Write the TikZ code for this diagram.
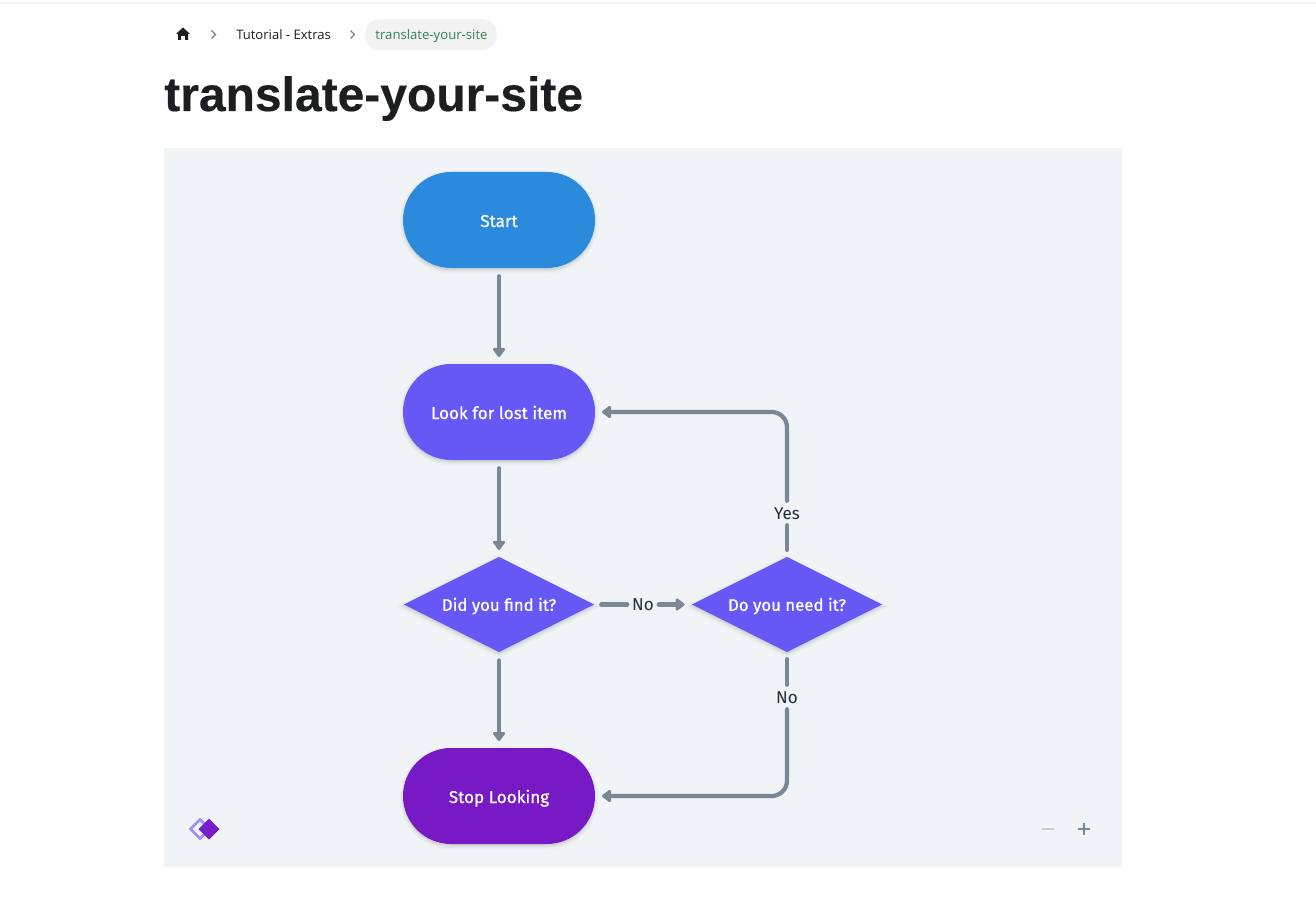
\documentclass[tikz,border=0pt]{standalone}
\usepackage{fontspec}
\setmainfont{Open Sans}
\newfontfamily\flowfont{Fira Sans}
\newfontfamily\flowbold{Fira Sans}[FakeBold=0.8]
\newfontfamily\titlefont{Liberation Sans}[BoldFont={Liberation Sans Bold},BoldFeatures={FakeBold=0.35}]
\usetikzlibrary{arrows.meta,shapes.geometric,shapes.misc,calc}
\definecolor{panelbg}{HTML}{F0F4F7}
\definecolor{edgecol}{HTML}{7A8896}
\definecolor{labcol}{HTML}{1F2D3D}
\definecolor{startcol}{HTML}{2B8ADC}
\definecolor{lookcol}{HTML}{6558F5}
\definecolor{stopcol}{HTML}{7719C4}
\definecolor{titlecol}{HTML}{1C1E21}
\definecolor{crumbgreen}{HTML}{2E8555}
\definecolor{logolight}{HTML}{9C90FB}
\tikzset{
  px/.style={x=0.75pt,y=-0.75pt},
  soft/.style={preaction={draw=black,draw opacity=0.025,line width=5pt,fill=black,fill opacity=0.025,transform canvas={yshift=-1.5pt}},
               preaction={draw=black,draw opacity=0.04,line width=2.5pt,fill=black,fill opacity=0.04,transform canvas={yshift=-1.5pt}}},
  term/.style={rounded rectangle,minimum width=144pt,minimum height=72pt,inner sep=0pt,text=white,soft,
     text height=10.5pt,text depth=0pt,font=\flowbold\fontsize{12.8pt}{15pt}\selectfont},
  decide/.style={diamond,aspect=2,minimum width=143pt,minimum height=71.5pt,inner sep=0pt,text=white,fill=lookcol,soft,
     text height=9.5pt,text depth=0pt,font=\flowbold\fontsize{12.6pt}{15pt}\selectfont},
  edge/.style={draw=edgecol,line width=3.2pt,line cap=round,rounded corners=11.5pt},
  tip/.style={-{Triangle[length=7.5pt,width=10.5pt,round]}},
  elabel/.style={fill=panelbg,text=labcol,inner ysep=0pt,inner xsep=3.5pt,text height=9.5pt,text depth=0pt,font=\flowfont\fontsize{12.8pt}{15pt}\selectfont},
  gap/.style={shorten <=6pt,shorten >=5pt},
}
\begin{document}
\begin{tikzpicture}[px]
\useasboundingbox (0,0) rectangle (1316,909);
\fill[white] (0,0) rectangle (1316,909);
\fill[black!4] (0,2) rectangle (1316,4);
% breadcrumb
\fill[titlecol] (183,27.5) -- (190,34) -- (188,34) -- (188,40) -- (185,40) -- (185,36) -- (181,36) -- (181,40) -- (178,40) -- (178,34) -- (176,34) -- cycle;
\draw[black!50,line width=0.9pt] (211.5,30.5) -- (215.5,34.5) -- (211.5,38.5);
\node[anchor=base west,text=titlecol,inner sep=0pt,font=\fontsize{9.8pt}{12pt}\selectfont] (crumb) at (236,39.8) {Tutorial - Extras};
\draw[black!50,line width=0.9pt] (350.5,30.5) -- (354.5,34.5) -- (350.5,38.5);
\fill[black!5,rounded corners=11.5pt] (365,19) rectangle (497,50);
\node[anchor=base,text=crumbgreen,inner sep=0pt,font=\fontsize{9.85pt}{12pt}\selectfont] (here) at (431.5,39.8) {translate-your-site};
\node[anchor=base west,text=titlecol,inner sep=0pt,font=\titlefont\bfseries\fontsize{36pt}{40pt}\selectfont] (title) at (164,111) {translate-your-site};
% panel
\fill[panelbg] (164,148) rectangle (1122,867);
% nodes
\node[term,fill=startcol] (start) at (499,220) {Start};
\node[term,fill=lookcol] (look) at (499,412) {Look for lost item};
\node[decide] (find) at (499,604.5) {Did you find it?};
\node[decide] (need) at (787,604.5) {Do you need it?};
\node[term,fill=stopcol] (stop) at (499,796) {Stop Looking};
% labels
\node[elabel] (lno) at (643,604.5) {No};
\node[elabel,minimum height=18pt] (lyes) at (787,513) {Yes};
\node[elabel,minimum height=18pt] (lno2) at (787,697) {No};
% connectors
\draw[edge,tip,gap] (start.south) -- (look.north);
\draw[edge,tip,gap] (look.south) -- (find.north);
\draw[edge,tip,gap] (find.south) -- (stop.north);
\draw[edge,shorten <=5pt] (find.east) -- (lno.west);
\draw[edge,tip,shorten >=5pt] (lno.east) -- (need.west);
\draw[edge,shorten <=5pt] (need.north) -- (lyes.south);
\draw[edge,tip,shorten >=5pt] (lyes.north) |- (look.east);
\draw[edge,shorten <=5pt] (need.south) -- (lno2.north);
\draw[edge,tip,shorten >=5pt] (lno2.south) |- (stop.east);
% logo
\draw[draw=logolight,line width=2pt] (200,819.5) -- (190.5,829) -- (200,838.5) -- (209.5,829) -- cycle;
\fill[stopcol!92!lookcol] (209,818.5) -- (219.5,829) -- (209,839.5) -- (198.5,829) -- cycle;
% zoom controls
\draw[edgecol!40,line width=1.5pt] (1042,829) -- (1054,829);
\draw[edgecol,line width=1.5pt] (1078,829) -- (1090,829) (1084,823) -- (1084,835);
\end{tikzpicture}
\end{document}
